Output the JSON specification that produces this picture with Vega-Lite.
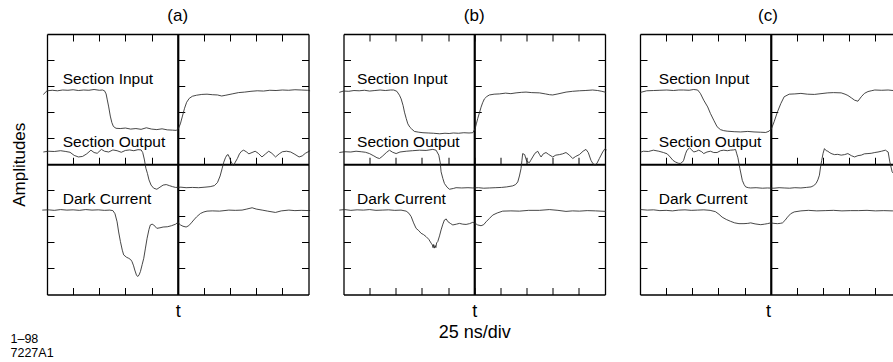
{
"$schema":"https://vega.github.io/schema/vega-lite/v6.json",
"padding":{"left":10,"top":6,"right":0,"bottom":0},
"bounds":"flush",
"spacing":34.5,
"title":{"text":["1–98","7227A1"],"orient":"bottom","anchor":"start","fontSize":12.5,"fontWeight":"normal","offset":-8,"lineHeight":14,"color":"#000"},
"config":{
 "font":"Liberation Sans",
 "view":{"stroke":null},
 "axis":{"labels":false,"grid":false,"domainColor":"#000","domainWidth":1.3,"tickColor":"#000","tickWidth":1,"tickSize":-7,"titleFontWeight":"normal","titleColor":"#000","titleFontSize":18,"titlePadding":7,"titleLineHeight":21},
 "title":{"fontSize":17,"fontWeight":"normal","color":"#000","offset":9}
},
"datasets":{
"lb":[
{"p":"a","label":"Section Input","t":-110,"v":3.09},{"p":"a","label":"Section Output","t":-110,"v":0.67},{"p":"a","label":"Dark Current","t":-110,"v":-1.53},
{"p":"b","label":"Section Input","t":-112,"v":3.09},{"p":"b","label":"Section Output","t":-112,"v":0.67},{"p":"b","label":"Dark Current","t":-112,"v":-1.53},
{"p":"c","label":"Section Input","t":-107,"v":3.09},{"p":"c","label":"Section Output","t":-107,"v":0.67},{"p":"c","label":"Dark Current","t":-107,"v":-1.53}
],
"tr":[
{"p":"a","s":"in","t":-128.5,"v":2.68},{"p":"a","s":"in","t":-125,"v":2.82},{"p":"a","s":"in","t":-120,"v":2.84},{"p":"a","s":"in","t":-115,"v":2.82},{"p":"a","s":"in","t":-110,"v":2.85},{"p":"a","s":"in","t":-105,"v":2.84},{"p":"a","s":"in","t":-100,"v":2.86},{"p":"a","s":"in","t":-95,"v":2.83},{"p":"a","s":"in","t":-90,"v":2.85},{"p":"a","s":"in","t":-85,"v":2.84},{"p":"a","s":"in","t":-80,"v":2.87},{"p":"a","s":"in","t":-75,"v":2.84},{"p":"a","s":"in","t":-72,"v":2.85},{"p":"a","s":"in","t":-70,"v":2.82},{"p":"a","s":"in","t":-68.5,"v":2.7},{"p":"a","s":"in","t":-67.5,"v":2.5},{"p":"a","s":"in","t":-66,"v":2.2},{"p":"a","s":"in","t":-64.5,"v":1.85},{"p":"a","s":"in","t":-63,"v":1.6},{"p":"a","s":"in","t":-61.5,"v":1.45},{"p":"a","s":"in","t":-59,"v":1.38},{"p":"a","s":"in","t":-55,"v":1.37},{"p":"a","s":"in","t":-50,"v":1.39},{"p":"a","s":"in","t":-45,"v":1.35},{"p":"a","s":"in","t":-40,"v":1.37},{"p":"a","s":"in","t":-35,"v":1.34},{"p":"a","s":"in","t":-30,"v":1.4},{"p":"a","s":"in","t":-25,"v":1.35},{"p":"a","s":"in","t":-20,"v":1.33},{"p":"a","s":"in","t":-15,"v":1.36},{"p":"a","s":"in","t":-10,"v":1.32},{"p":"a","s":"in","t":-5,"v":1.31},{"p":"a","s":"in","t":-1.5,"v":1.3},{"p":"a","s":"in","t":0.5,"v":1.36},{"p":"a","s":"in","t":2.5,"v":1.55},{"p":"a","s":"in","t":4.5,"v":1.85},{"p":"a","s":"in","t":6.5,"v":2.15},{"p":"a","s":"in","t":8.5,"v":2.38},{"p":"a","s":"in","t":11,"v":2.53},{"p":"a","s":"in","t":14,"v":2.61},{"p":"a","s":"in","t":18,"v":2.65},{"p":"a","s":"in","t":23,"v":2.68},{"p":"a","s":"in","t":28,"v":2.69},{"p":"a","s":"in","t":33,"v":2.67},{"p":"a","s":"in","t":38,"v":2.66},{"p":"a","s":"in","t":42,"v":2.62},{"p":"a","s":"in","t":46,"v":2.65},{"p":"a","s":"in","t":52,"v":2.7},{"p":"a","s":"in","t":58,"v":2.75},{"p":"a","s":"in","t":64,"v":2.77},{"p":"a","s":"in","t":70,"v":2.8},{"p":"a","s":"in","t":76,"v":2.82},{"p":"a","s":"in","t":82,"v":2.81},{"p":"a","s":"in","t":88,"v":2.84},{"p":"a","s":"in","t":94,"v":2.83},{"p":"a","s":"in","t":100,"v":2.85},{"p":"a","s":"in","t":106,"v":2.84},{"p":"a","s":"in","t":112,"v":2.86},{"p":"a","s":"in","t":118,"v":2.85},{"p":"a","s":"in","t":124,"v":2.84},{"p":"a","s":"in","t":126.5,"v":2.82},
{"p":"a","s":"out","t":-128.5,"v":0.47},{"p":"a","s":"out","t":-124,"v":0.5},{"p":"a","s":"out","t":-118,"v":0.49},{"p":"a","s":"out","t":-112,"v":0.52},{"p":"a","s":"out","t":-107,"v":0.49},{"p":"a","s":"out","t":-103,"v":0.46},{"p":"a","s":"out","t":-99,"v":0.34},{"p":"a","s":"out","t":-95,"v":0.28},{"p":"a","s":"out","t":-91,"v":0.3},{"p":"a","s":"out","t":-87,"v":0.4},{"p":"a","s":"out","t":-83,"v":0.54},{"p":"a","s":"out","t":-80,"v":0.45},{"p":"a","s":"out","t":-77,"v":0.42},{"p":"a","s":"out","t":-73,"v":0.57},{"p":"a","s":"out","t":-70,"v":0.5},{"p":"a","s":"out","t":-66,"v":0.47},{"p":"a","s":"out","t":-62,"v":0.55},{"p":"a","s":"out","t":-58,"v":0.52},{"p":"a","s":"out","t":-54,"v":0.46},{"p":"a","s":"out","t":-50,"v":0.53},{"p":"a","s":"out","t":-46,"v":0.55},{"p":"a","s":"out","t":-42,"v":0.52},{"p":"a","s":"out","t":-38,"v":0.56},{"p":"a","s":"out","t":-35,"v":0.55},{"p":"a","s":"out","t":-33.5,"v":0.45},{"p":"a","s":"out","t":-32,"v":0.2},{"p":"a","s":"out","t":-30.5,"v":-0.15},{"p":"a","s":"out","t":-29,"v":-0.35},{"p":"a","s":"out","t":-27.5,"v":-0.6},{"p":"a","s":"out","t":-25.5,"v":-0.8},{"p":"a","s":"out","t":-23,"v":-0.92},{"p":"a","s":"out","t":-20,"v":-0.96},{"p":"a","s":"out","t":-17,"v":-0.88},{"p":"a","s":"out","t":-14,"v":-0.8},{"p":"a","s":"out","t":-11,"v":-0.78},{"p":"a","s":"out","t":-8,"v":-0.82},{"p":"a","s":"out","t":-5,"v":-0.86},{"p":"a","s":"out","t":-2,"v":-0.89},{"p":"a","s":"out","t":3,"v":-0.88},{"p":"a","s":"out","t":8,"v":-0.9},{"p":"a","s":"out","t":14,"v":-0.89},{"p":"a","s":"out","t":20,"v":-0.9},{"p":"a","s":"out","t":26,"v":-0.88},{"p":"a","s":"out","t":31,"v":-0.86},{"p":"a","s":"out","t":35,"v":-0.82},{"p":"a","s":"out","t":38,"v":-0.7},{"p":"a","s":"out","t":40.5,"v":-0.45},{"p":"a","s":"out","t":42.5,"v":-0.15},{"p":"a","s":"out","t":44,"v":0.08},{"p":"a","s":"out","t":45.6,"v":0.25},{"p":"a","s":"out","t":47,"v":0.35},{"p":"a","s":"out","t":48.2,"v":0.37},{"p":"a","s":"out","t":49.5,"v":0.25},{"p":"a","s":"out","t":51,"v":0.1},{"p":"a","s":"out","t":52.5,"v":-0.02},{"p":"a","s":"out","t":53.6,"v":-0.04},{"p":"a","s":"out","t":55,"v":0.08},{"p":"a","s":"out","t":57,"v":0.22},{"p":"a","s":"out","t":59,"v":0.4},{"p":"a","s":"out","t":61,"v":0.5},{"p":"a","s":"out","t":63,"v":0.54},{"p":"a","s":"out","t":65.5,"v":0.48},{"p":"a","s":"out","t":68,"v":0.4},{"p":"a","s":"out","t":71,"v":0.45},{"p":"a","s":"out","t":74,"v":0.5},{"p":"a","s":"out","t":77,"v":0.42},{"p":"a","s":"out","t":80.5,"v":0.28},{"p":"a","s":"out","t":84,"v":0.4},{"p":"a","s":"out","t":87,"v":0.5},{"p":"a","s":"out","t":90,"v":0.42},{"p":"a","s":"out","t":93.5,"v":0.28},{"p":"a","s":"out","t":97,"v":0.4},{"p":"a","s":"out","t":100,"v":0.48},{"p":"a","s":"out","t":104,"v":0.5},{"p":"a","s":"out","t":108,"v":0.47},{"p":"a","s":"out","t":112,"v":0.38},{"p":"a","s":"out","t":116,"v":0.28},{"p":"a","s":"out","t":119,"v":0.32},{"p":"a","s":"out","t":122,"v":0.42},{"p":"a","s":"out","t":126.5,"v":0.52},
{"p":"a","s":"dc","t":-129.5,"v":-1.76},{"p":"a","s":"dc","t":-124,"v":-1.75},{"p":"a","s":"dc","t":-118,"v":-1.77},{"p":"a","s":"dc","t":-112,"v":-1.74},{"p":"a","s":"dc","t":-106,"v":-1.76},{"p":"a","s":"dc","t":-100,"v":-1.75},{"p":"a","s":"dc","t":-94,"v":-1.77},{"p":"a","s":"dc","t":-88,"v":-1.74},{"p":"a","s":"dc","t":-82,"v":-1.76},{"p":"a","s":"dc","t":-76,"v":-1.75},{"p":"a","s":"dc","t":-70,"v":-1.77},{"p":"a","s":"dc","t":-65,"v":-1.76},{"p":"a","s":"dc","t":-62,"v":-1.78},{"p":"a","s":"dc","t":-60,"v":-1.9},{"p":"a","s":"dc","t":-58,"v":-2.21},{"p":"a","s":"dc","t":-56.5,"v":-2.6},{"p":"a","s":"dc","t":-54.8,"v":-2.97},{"p":"a","s":"dc","t":-53,"v":-3.3},{"p":"a","s":"dc","t":-51.7,"v":-3.48},{"p":"a","s":"dc","t":-49,"v":-3.57},{"p":"a","s":"dc","t":-46.9,"v":-3.61},{"p":"a","s":"dc","t":-45,"v":-3.66},{"p":"a","s":"dc","t":-43.7,"v":-3.74},{"p":"a","s":"dc","t":-42.2,"v":-3.9},{"p":"a","s":"dc","t":-41.1,"v":-4.06},{"p":"a","s":"dc","t":-39.5,"v":-4.25},{"p":"a","s":"dc","t":-38.3,"v":-4.31},{"p":"a","s":"dc","t":-37,"v":-4.25},{"p":"a","s":"dc","t":-35.7,"v":-4.12},{"p":"a","s":"dc","t":-34,"v":-3.85},{"p":"a","s":"dc","t":-32.5,"v":-3.61},{"p":"a","s":"dc","t":-31,"v":-3.25},{"p":"a","s":"dc","t":-29.3,"v":-2.84},{"p":"a","s":"dc","t":-27.5,"v":-2.5},{"p":"a","s":"dc","t":-26.2,"v":-2.33},{"p":"a","s":"dc","t":-24.5,"v":-2.3},{"p":"a","s":"dc","t":-23,"v":-2.33},{"p":"a","s":"dc","t":-20,"v":-2.46},{"p":"a","s":"dc","t":-17,"v":-2.44},{"p":"a","s":"dc","t":-14,"v":-2.41},{"p":"a","s":"dc","t":-10,"v":-2.4},{"p":"a","s":"dc","t":-6,"v":-2.36},{"p":"a","s":"dc","t":-2,"v":-2.3},{"p":"a","s":"dc","t":0,"v":-2.23},{"p":"a","s":"dc","t":2.6,"v":-2.33},{"p":"a","s":"dc","t":5,"v":-2.38},{"p":"a","s":"dc","t":8,"v":-2.41},{"p":"a","s":"dc","t":10.5,"v":-2.36},{"p":"a","s":"dc","t":13,"v":-2.25},{"p":"a","s":"dc","t":15.3,"v":-2.14},{"p":"a","s":"dc","t":18,"v":-2.02},{"p":"a","s":"dc","t":21.7,"v":-1.89},{"p":"a","s":"dc","t":25,"v":-1.83},{"p":"a","s":"dc","t":28,"v":-1.8},{"p":"a","s":"dc","t":33,"v":-1.79},{"p":"a","s":"dc","t":40,"v":-1.8},{"p":"a","s":"dc","t":48.8,"v":-1.76},{"p":"a","s":"dc","t":55,"v":-1.77},{"p":"a","s":"dc","t":61.5,"v":-1.76},{"p":"a","s":"dc","t":66,"v":-1.72},{"p":"a","s":"dc","t":71.1,"v":-1.67},{"p":"a","s":"dc","t":75,"v":-1.72},{"p":"a","s":"dc","t":80.7,"v":-1.76},{"p":"a","s":"dc","t":86,"v":-1.8},{"p":"a","s":"dc","t":93.4,"v":-1.85},{"p":"a","s":"dc","t":99,"v":-1.79},{"p":"a","s":"dc","t":106.2,"v":-1.76},{"p":"a","s":"dc","t":112,"v":-1.78},{"p":"a","s":"dc","t":118,"v":-1.77},{"p":"a","s":"dc","t":126.5,"v":-1.78},
{"p":"b","s":"in","t":-129,"v":2.76},{"p":"b","s":"in","t":-125,"v":2.81},{"p":"b","s":"in","t":-120,"v":2.8},{"p":"b","s":"in","t":-115,"v":2.83},{"p":"b","s":"in","t":-110,"v":2.82},{"p":"b","s":"in","t":-105,"v":2.84},{"p":"b","s":"in","t":-100,"v":2.81},{"p":"b","s":"in","t":-95,"v":2.83},{"p":"b","s":"in","t":-90,"v":2.85},{"p":"b","s":"in","t":-85,"v":2.83},{"p":"b","s":"in","t":-80,"v":2.85},{"p":"b","s":"in","t":-77,"v":2.85},{"p":"b","s":"in","t":-74,"v":2.8},{"p":"b","s":"in","t":-71.5,"v":2.65},{"p":"b","s":"in","t":-69.9,"v":2.51},{"p":"b","s":"in","t":-68,"v":2.25},{"p":"b","s":"in","t":-66.7,"v":2.0},{"p":"b","s":"in","t":-65,"v":1.75},{"p":"b","s":"in","t":-63.5,"v":1.55},{"p":"b","s":"in","t":-61.5,"v":1.42},{"p":"b","s":"in","t":-60,"v":1.36},{"p":"b","s":"in","t":-57.2,"v":1.26},{"p":"b","s":"in","t":-53,"v":1.23},{"p":"b","s":"in","t":-49,"v":1.21},{"p":"b","s":"in","t":-44,"v":1.2},{"p":"b","s":"in","t":-39,"v":1.19},{"p":"b","s":"in","t":-33,"v":1.17},{"p":"b","s":"in","t":-28,"v":1.19},{"p":"b","s":"in","t":-24,"v":1.18},{"p":"b","s":"in","t":-20,"v":1.2},{"p":"b","s":"in","t":-15,"v":1.19},{"p":"b","s":"in","t":-10,"v":1.21},{"p":"b","s":"in","t":-5,"v":1.2},{"p":"b","s":"in","t":-1.4,"v":1.21},{"p":"b","s":"in","t":0.8,"v":1.36},{"p":"b","s":"in","t":2,"v":1.55},{"p":"b","s":"in","t":3.3,"v":1.75},{"p":"b","s":"in","t":5,"v":1.98},{"p":"b","s":"in","t":6.5,"v":2.19},{"p":"b","s":"in","t":8,"v":2.36},{"p":"b","s":"in","t":9.7,"v":2.51},{"p":"b","s":"in","t":12,"v":2.6},{"p":"b","s":"in","t":14.5,"v":2.66},{"p":"b","s":"in","t":19,"v":2.69},{"p":"b","s":"in","t":24,"v":2.7},{"p":"b","s":"in","t":30,"v":2.73},{"p":"b","s":"in","t":35,"v":2.71},{"p":"b","s":"in","t":40,"v":2.74},{"p":"b","s":"in","t":45,"v":2.76},{"p":"b","s":"in","t":49.5,"v":2.77},{"p":"b","s":"in","t":55,"v":2.75},{"p":"b","s":"in","t":62.3,"v":2.74},{"p":"b","s":"in","t":68,"v":2.7},{"p":"b","s":"in","t":72,"v":2.67},{"p":"b","s":"in","t":75,"v":2.66},{"p":"b","s":"in","t":80,"v":2.7},{"p":"b","s":"in","t":87.8,"v":2.77},{"p":"b","s":"in","t":94,"v":2.8},{"p":"b","s":"in","t":100.5,"v":2.82},{"p":"b","s":"in","t":106,"v":2.83},{"p":"b","s":"in","t":113.2,"v":2.85},{"p":"b","s":"in","t":118,"v":2.83},{"p":"b","s":"in","t":122,"v":2.8},{"p":"b","s":"in","t":126,"v":2.76},
{"p":"b","s":"out","t":-129,"v":0.45},{"p":"b","s":"out","t":-124,"v":0.48},{"p":"b","s":"out","t":-118,"v":0.47},{"p":"b","s":"out","t":-113,"v":0.5},{"p":"b","s":"out","t":-108,"v":0.48},{"p":"b","s":"out","t":-104,"v":0.46},{"p":"b","s":"out","t":-100.2,"v":0.41},{"p":"b","s":"out","t":-96,"v":0.32},{"p":"b","s":"out","t":-93,"v":0.25},{"p":"b","s":"out","t":-90.6,"v":0.22},{"p":"b","s":"out","t":-88,"v":0.3},{"p":"b","s":"out","t":-84,"v":0.45},{"p":"b","s":"out","t":-81.1,"v":0.54},{"p":"b","s":"out","t":-78,"v":0.46},{"p":"b","s":"out","t":-74.7,"v":0.41},{"p":"b","s":"out","t":-71,"v":0.47},{"p":"b","s":"out","t":-65,"v":0.5},{"p":"b","s":"out","t":-59,"v":0.52},{"p":"b","s":"out","t":-52.4,"v":0.54},{"p":"b","s":"out","t":-46,"v":0.53},{"p":"b","s":"out","t":-39.6,"v":0.57},{"p":"b","s":"out","t":-36.5,"v":0.54},{"p":"b","s":"out","t":-33.9,"v":0.35},{"p":"b","s":"out","t":-32.5,"v":0.05},{"p":"b","s":"out","t":-31.7,"v":-0.29},{"p":"b","s":"out","t":-30,"v":-0.55},{"p":"b","s":"out","t":-28.5,"v":-0.74},{"p":"b","s":"out","t":-26,"v":-0.88},{"p":"b","s":"out","t":-23.7,"v":-0.96},{"p":"b","s":"out","t":-20,"v":-0.93},{"p":"b","s":"out","t":-17.4,"v":-0.9},{"p":"b","s":"out","t":-12,"v":-0.91},{"p":"b","s":"out","t":-6,"v":-0.9},{"p":"b","s":"out","t":-1.4,"v":-0.91},{"p":"b","s":"out","t":4,"v":-0.9},{"p":"b","s":"out","t":9,"v":-0.92},{"p":"b","s":"out","t":14.5,"v":-0.91},{"p":"b","s":"out","t":20,"v":-0.9},{"p":"b","s":"out","t":26,"v":-0.89},{"p":"b","s":"out","t":31,"v":-0.87},{"p":"b","s":"out","t":36.8,"v":-0.83},{"p":"b","s":"out","t":39.5,"v":-0.78},{"p":"b","s":"out","t":41.6,"v":-0.68},{"p":"b","s":"out","t":43.2,"v":-0.45},{"p":"b","s":"out","t":44.7,"v":-0.17},{"p":"b","s":"out","t":45.6,"v":0.15},{"p":"b","s":"out","t":46.3,"v":0.41},{"p":"b","s":"out","t":48.2,"v":0.37},{"p":"b","s":"out","t":50.2,"v":0.11},{"p":"b","s":"out","t":52.7,"v":0.06},{"p":"b","s":"out","t":54,"v":0.15},{"p":"b","s":"out","t":55.9,"v":0.28},{"p":"b","s":"out","t":58,"v":0.42},{"p":"b","s":"out","t":60.7,"v":0.5},{"p":"b","s":"out","t":62.3,"v":0.38},{"p":"b","s":"out","t":63.9,"v":0.28},{"p":"b","s":"out","t":66,"v":0.4},{"p":"b","s":"out","t":68.6,"v":0.45},{"p":"b","s":"out","t":71,"v":0.38},{"p":"b","s":"out","t":75,"v":0.28},{"p":"b","s":"out","t":78,"v":0.35},{"p":"b","s":"out","t":81.4,"v":0.37},{"p":"b","s":"out","t":84.5,"v":0.4},{"p":"b","s":"out","t":87.7,"v":0.45},{"p":"b","s":"out","t":91,"v":0.35},{"p":"b","s":"out","t":94.1,"v":0.22},{"p":"b","s":"out","t":97,"v":0.3},{"p":"b","s":"out","t":100.5,"v":0.37},{"p":"b","s":"out","t":104,"v":0.5},{"p":"b","s":"out","t":106.8,"v":0.57},{"p":"b","s":"out","t":109,"v":0.45},{"p":"b","s":"out","t":111.6,"v":0.15},{"p":"b","s":"out","t":113.5,"v":0.02},{"p":"b","s":"out","t":115.7,"v":-0.04},{"p":"b","s":"out","t":117.5,"v":0.05},{"p":"b","s":"out","t":119.6,"v":0.22},{"p":"b","s":"out","t":122.8,"v":0.47},{"p":"b","s":"out","t":125,"v":0.6},{"p":"b","s":"out","t":126.5,"v":0.55},
{"p":"b","s":"dc","t":-129,"v":-1.76},{"p":"b","s":"dc","t":-124,"v":-1.74},{"p":"b","s":"dc","t":-118,"v":-1.77},{"p":"b","s":"dc","t":-112,"v":-1.75},{"p":"b","s":"dc","t":-106,"v":-1.76},{"p":"b","s":"dc","t":-100,"v":-1.74},{"p":"b","s":"dc","t":-94,"v":-1.77},{"p":"b","s":"dc","t":-88,"v":-1.76},{"p":"b","s":"dc","t":-82,"v":-1.75},{"p":"b","s":"dc","t":-76,"v":-1.77},{"p":"b","s":"dc","t":-70,"v":-1.76},{"p":"b","s":"dc","t":-65.1,"v":-1.8},{"p":"b","s":"dc","t":-62.5,"v":-1.88},{"p":"b","s":"dc","t":-60.3,"v":-2.01},{"p":"b","s":"dc","t":-58,"v":-2.25},{"p":"b","s":"dc","t":-55.6,"v":-2.46},{"p":"b","s":"dc","t":-53,"v":-2.55},{"p":"b","s":"dc","t":-50.8,"v":-2.65},{"p":"b","s":"dc","t":-48.5,"v":-2.7},{"p":"b","s":"dc","t":-46,"v":-2.78},{"p":"b","s":"dc","t":-43.5,"v":-2.88},{"p":"b","s":"dc","t":-41.2,"v":-3.03},{"p":"b","s":"dc","t":-40,"v":-3.1},{"p":"b","s":"dc","t":-39.4,"v":-3.2},{"p":"b","s":"dc","t":-38.8,"v":-3.08},{"p":"b","s":"dc","t":-38.2,"v":-3.22},{"p":"b","s":"dc","t":-37.4,"v":-3.12},{"p":"b","s":"dc","t":-36.7,"v":-3.2},{"p":"b","s":"dc","t":-36,"v":-3.02},{"p":"b","s":"dc","t":-34.9,"v":-2.97},{"p":"b","s":"dc","t":-33.2,"v":-2.75},{"p":"b","s":"dc","t":-31.7,"v":-2.52},{"p":"b","s":"dc","t":-30,"v":-2.3},{"p":"b","s":"dc","t":-28.5,"v":-2.14},{"p":"b","s":"dc","t":-26.8,"v":-2.1},{"p":"b","s":"dc","t":-25.3,"v":-2.2},{"p":"b","s":"dc","t":-22.5,"v":-2.28},{"p":"b","s":"dc","t":-20.5,"v":-2.33},{"p":"b","s":"dc","t":-17,"v":-2.3},{"p":"b","s":"dc","t":-14.2,"v":-2.27},{"p":"b","s":"dc","t":-11,"v":-2.3},{"p":"b","s":"dc","t":-7.8,"v":-2.31},{"p":"b","s":"dc","t":-4.5,"v":-2.28},{"p":"b","s":"dc","t":-1.4,"v":-2.23},{"p":"b","s":"dc","t":1,"v":-2.27},{"p":"b","s":"dc","t":3.3,"v":-2.33},{"p":"b","s":"dc","t":6.5,"v":-2.36},{"p":"b","s":"dc","t":9,"v":-2.32},{"p":"b","s":"dc","t":11.3,"v":-2.21},{"p":"b","s":"dc","t":14.5,"v":-2.08},{"p":"b","s":"dc","t":17.7,"v":-1.95},{"p":"b","s":"dc","t":22,"v":-1.87},{"p":"b","s":"dc","t":27.2,"v":-1.8},{"p":"b","s":"dc","t":35,"v":-1.79},{"p":"b","s":"dc","t":43.2,"v":-1.8},{"p":"b","s":"dc","t":52,"v":-1.77},{"p":"b","s":"dc","t":62.3,"v":-1.77},{"p":"b","s":"dc","t":71.8,"v":-1.74},{"p":"b","s":"dc","t":80,"v":-1.77},{"p":"b","s":"dc","t":87.7,"v":-1.81},{"p":"b","s":"dc","t":94,"v":-1.79},{"p":"b","s":"dc","t":100.5,"v":-1.8},{"p":"b","s":"dc","t":108,"v":-1.78},{"p":"b","s":"dc","t":116,"v":-1.79},{"p":"b","s":"dc","t":126,"v":-1.81},
{"p":"c","s":"in","t":-128,"v":2.59},{"p":"c","s":"in","t":-124.4,"v":2.76},{"p":"c","s":"in","t":-118.6,"v":2.82},{"p":"c","s":"in","t":-112,"v":2.83},{"p":"c","s":"in","t":-106,"v":2.84},{"p":"c","s":"in","t":-99.4,"v":2.85},{"p":"c","s":"in","t":-93,"v":2.83},{"p":"c","s":"in","t":-88,"v":2.85},{"p":"c","s":"in","t":-83.3,"v":2.85},{"p":"c","s":"in","t":-78,"v":2.84},{"p":"c","s":"in","t":-73.7,"v":2.87},{"p":"c","s":"in","t":-69.9,"v":2.85},{"p":"c","s":"in","t":-67.3,"v":2.72},{"p":"c","s":"in","t":-64.1,"v":2.46},{"p":"c","s":"in","t":-60.3,"v":2.2},{"p":"c","s":"in","t":-57.7,"v":1.95},{"p":"c","s":"in","t":-54.5,"v":1.69},{"p":"c","s":"in","t":-51.3,"v":1.44},{"p":"c","s":"in","t":-48.1,"v":1.33},{"p":"c","s":"in","t":-45,"v":1.29},{"p":"c","s":"in","t":-41.7,"v":1.27},{"p":"c","s":"in","t":-35,"v":1.25},{"p":"c","s":"in","t":-28.8,"v":1.24},{"p":"c","s":"in","t":-22,"v":1.26},{"p":"c","s":"in","t":-16,"v":1.24},{"p":"c","s":"in","t":-10,"v":1.23},{"p":"c","s":"in","t":-4.8,"v":1.22},{"p":"c","s":"in","t":-1.6,"v":1.27},{"p":"c","s":"in","t":0.6,"v":1.36},{"p":"c","s":"in","t":3.2,"v":1.63},{"p":"c","s":"in","t":6.4,"v":2.01},{"p":"c","s":"in","t":9.6,"v":2.33},{"p":"c","s":"in","t":12.8,"v":2.59},{"p":"c","s":"in","t":17.6,"v":2.69},{"p":"c","s":"in","t":23,"v":2.7},{"p":"c","s":"in","t":28.8,"v":2.72},{"p":"c","s":"in","t":35,"v":2.69},{"p":"c","s":"in","t":41.7,"v":2.68},{"p":"c","s":"in","t":48,"v":2.71},{"p":"c","s":"in","t":54.5,"v":2.74},{"p":"c","s":"in","t":60,"v":2.75},{"p":"c","s":"in","t":67.3,"v":2.74},{"p":"c","s":"in","t":71,"v":2.69},{"p":"c","s":"in","t":73.7,"v":2.64},{"p":"c","s":"in","t":77,"v":2.55},{"p":"c","s":"in","t":80.1,"v":2.46},{"p":"c","s":"in","t":83.3,"v":2.42},{"p":"c","s":"in","t":86.5,"v":2.59},{"p":"c","s":"in","t":89.5,"v":2.72},{"p":"c","s":"in","t":92.9,"v":2.79},{"p":"c","s":"in","t":96,"v":2.82},{"p":"c","s":"in","t":99.4,"v":2.85},{"p":"c","s":"in","t":106,"v":2.84},{"p":"c","s":"in","t":112.2,"v":2.85},{"p":"c","s":"in","t":117,"v":2.83},{"p":"c","s":"in","t":121.8,"v":2.82},{"p":"c","s":"in","t":125,"v":2.8},
{"p":"c","s":"out","t":-128,"v":0.41},{"p":"c","s":"out","t":-121.8,"v":0.5},{"p":"c","s":"out","t":-117,"v":0.49},{"p":"c","s":"out","t":-112.2,"v":0.54},{"p":"c","s":"out","t":-107,"v":0.5},{"p":"c","s":"out","t":-102.6,"v":0.45},{"p":"c","s":"out","t":-99,"v":0.4},{"p":"c","s":"out","t":-96.2,"v":0.28},{"p":"c","s":"out","t":-93.5,"v":0.15},{"p":"c","s":"out","t":-91.3,"v":0.09},{"p":"c","s":"out","t":-88.5,"v":0.04},{"p":"c","s":"out","t":-86.5,"v":0.03},{"p":"c","s":"out","t":-84.5,"v":0.08},{"p":"c","s":"out","t":-83.3,"v":0.15},{"p":"c","s":"out","t":-81.5,"v":0.4},{"p":"c","s":"out","t":-80.1,"v":0.54},{"p":"c","s":"out","t":-77.6,"v":0.63},{"p":"c","s":"out","t":-75.5,"v":0.55},{"p":"c","s":"out","t":-73.7,"v":0.47},{"p":"c","s":"out","t":-71,"v":0.5},{"p":"c","s":"out","t":-68.9,"v":0.54},{"p":"c","s":"out","t":-66,"v":0.48},{"p":"c","s":"out","t":-64.1,"v":0.41},{"p":"c","s":"out","t":-61,"v":0.47},{"p":"c","s":"out","t":-57.7,"v":0.5},{"p":"c","s":"out","t":-54.5,"v":0.45},{"p":"c","s":"out","t":-51.3,"v":0.45},{"p":"c","s":"out","t":-48,"v":0.52},{"p":"c","s":"out","t":-44.9,"v":0.54},{"p":"c","s":"out","t":-41.5,"v":0.52},{"p":"c","s":"out","t":-38.5,"v":0.54},{"p":"c","s":"out","t":-35.5,"v":0.55},{"p":"c","s":"out","t":-33.7,"v":0.57},{"p":"c","s":"out","t":-32.5,"v":0.4},{"p":"c","s":"out","t":-31.4,"v":0.25},{"p":"c","s":"out","t":-29.5,"v":-0.17},{"p":"c","s":"out","t":-27.2,"v":-0.62},{"p":"c","s":"out","t":-25.5,"v":-0.78},{"p":"c","s":"out","t":-24,"v":-0.87},{"p":"c","s":"out","t":-21.5,"v":-0.9},{"p":"c","s":"out","t":-19.2,"v":-0.91},{"p":"c","s":"out","t":-14,"v":-0.9},{"p":"c","s":"out","t":-8,"v":-0.92},{"p":"c","s":"out","t":-3.2,"v":-0.91},{"p":"c","s":"out","t":3,"v":-0.92},{"p":"c","s":"out","t":8,"v":-0.9},{"p":"c","s":"out","t":12.8,"v":-0.91},{"p":"c","s":"out","t":18,"v":-0.92},{"p":"c","s":"out","t":23,"v":-0.9},{"p":"c","s":"out","t":28.8,"v":-0.91},{"p":"c","s":"out","t":34,"v":-0.89},{"p":"c","s":"out","t":38.5,"v":-0.87},{"p":"c","s":"out","t":41,"v":-0.82},{"p":"c","s":"out","t":43.3,"v":-0.74},{"p":"c","s":"out","t":45,"v":-0.6},{"p":"c","s":"out","t":46.5,"v":-0.42},{"p":"c","s":"out","t":47.6,"v":-0.1},{"p":"c","s":"out","t":48.7,"v":0.15},{"p":"c","s":"out","t":50,"v":0.42},{"p":"c","s":"out","t":51.3,"v":0.6},{"p":"c","s":"out","t":53,"v":0.52},{"p":"c","s":"out","t":54.5,"v":0.5},{"p":"c","s":"out","t":56.5,"v":0.44},{"p":"c","s":"out","t":58.5,"v":0.4},{"p":"c","s":"out","t":60.9,"v":0.37},{"p":"c","s":"out","t":64,"v":0.38},{"p":"c","s":"out","t":67.3,"v":0.35},{"p":"c","s":"out","t":70.5,"v":0.37},{"p":"c","s":"out","t":73.7,"v":0.41},{"p":"c","s":"out","t":77,"v":0.33},{"p":"c","s":"out","t":80.1,"v":0.28},{"p":"c","s":"out","t":83.3,"v":0.33},{"p":"c","s":"out","t":86.5,"v":0.35},{"p":"c","s":"out","t":89.5,"v":0.4},{"p":"c","s":"out","t":92.9,"v":0.41},{"p":"c","s":"out","t":96,"v":0.42},{"p":"c","s":"out","t":99.4,"v":0.45},{"p":"c","s":"out","t":102.5,"v":0.47},{"p":"c","s":"out","t":105.8,"v":0.5},{"p":"c","s":"out","t":109.6,"v":0.54},{"p":"c","s":"out","t":111,"v":0.5},{"p":"c","s":"out","t":112.2,"v":0.47},{"p":"c","s":"out","t":113.8,"v":0.09},{"p":"c","s":"out","t":116,"v":-0.29},{"p":"c","s":"out","t":118.6,"v":-0.42},{"p":"c","s":"out","t":120.5,"v":-0.45},{"p":"c","s":"out","t":122.8,"v":-0.48},
{"p":"c","s":"dc","t":-128.5,"v":-1.77},{"p":"c","s":"dc","t":-124,"v":-1.74},{"p":"c","s":"dc","t":-118,"v":-1.76},{"p":"c","s":"dc","t":-112,"v":-1.75},{"p":"c","s":"dc","t":-106,"v":-1.78},{"p":"c","s":"dc","t":-100,"v":-1.77},{"p":"c","s":"dc","t":-94,"v":-1.79},{"p":"c","s":"dc","t":-88,"v":-1.76},{"p":"c","s":"dc","t":-82,"v":-1.75},{"p":"c","s":"dc","t":-76,"v":-1.77},{"p":"c","s":"dc","t":-70,"v":-1.76},{"p":"c","s":"dc","t":-64,"v":-1.75},{"p":"c","s":"dc","t":-58,"v":-1.77},{"p":"c","s":"dc","t":-52.9,"v":-1.82},{"p":"c","s":"dc","t":-49.5,"v":-1.92},{"p":"c","s":"dc","t":-46.5,"v":-2.03},{"p":"c","s":"dc","t":-42.5,"v":-2.12},{"p":"c","s":"dc","t":-38.5,"v":-2.19},{"p":"c","s":"dc","t":-34.5,"v":-2.25},{"p":"c","s":"dc","t":-30.4,"v":-2.28},{"p":"c","s":"dc","t":-25.6,"v":-2.28},{"p":"c","s":"dc","t":-22,"v":-2.27},{"p":"c","s":"dc","t":-19.2,"v":-2.25},{"p":"c","s":"dc","t":-15,"v":-2.29},{"p":"c","s":"dc","t":-9.6,"v":-2.32},{"p":"c","s":"dc","t":-6,"v":-2.3},{"p":"c","s":"dc","t":-3.2,"v":-2.28},{"p":"c","s":"dc","t":0,"v":-2.25},{"p":"c","s":"dc","t":3,"v":-2.27},{"p":"c","s":"dc","t":6.4,"v":-2.28},{"p":"c","s":"dc","t":9,"v":-2.27},{"p":"c","s":"dc","t":11.2,"v":-2.25},{"p":"c","s":"dc","t":13.5,"v":-2.16},{"p":"c","s":"dc","t":16,"v":-2.03},{"p":"c","s":"dc","t":19,"v":-1.9},{"p":"c","s":"dc","t":22.4,"v":-1.83},{"p":"c","s":"dc","t":28.8,"v":-1.79},{"p":"c","s":"dc","t":36,"v":-1.77},{"p":"c","s":"dc","t":44,"v":-1.79},{"p":"c","s":"dc","t":52,"v":-1.78},{"p":"c","s":"dc","t":60,"v":-1.77},{"p":"c","s":"dc","t":68,"v":-1.79},{"p":"c","s":"dc","t":76,"v":-1.78},{"p":"c","s":"dc","t":84,"v":-1.78},{"p":"c","s":"dc","t":92,"v":-1.77},{"p":"c","s":"dc","t":100,"v":-1.79},{"p":"c","s":"dc","t":108,"v":-1.78},{"p":"c","s":"dc","t":116,"v":-1.79},{"p":"c","s":"dc","t":124,"v":-1.78}
]
},
"hconcat":[
{"width":261.5,"height":260.5,"title":"(a)",
 "layer":[
  {"data":{"name":"tr"},"transform":[{"filter":"datum.p==='a'"}],
   "mark":{"type":"line","color":"#262626","strokeWidth":0.85},
   "encoding":{
    "x":{"field":"t","type":"quantitative","scale":{"domain":[-125,125],"nice":false,"zero":false},"axis":{"orient":"bottom","values":[-100,-75,-50,-25,0,25,50,75,100],"title":"t"}},
    "y":{"field":"v","type":"quantitative","scale":{"domain":[-5,5],"nice":false,"zero":false},"axis":{"orient":"left","values":[-4,-3,-2,-1,0,1,2,3,4],"title":"Amplitudes","titleFontSize":17,"titlePadding":18}},
    "detail":{"field":"s"}}},
  {"data":{"name":"lb"},"transform":[{"filter":"datum.p==='a'"}],
   "mark":{"type":"text","align":"left","baseline":"alphabetic","fontSize":15.5,"color":"#000"},
   "encoding":{
    "x":{"field":"t","type":"quantitative","axis":{"orient":"top","values":[-100,-75,-50,-25,0,25,50,75,100],"title":null}},
    "y":{"field":"v","type":"quantitative","axis":{"orient":"right","values":[-4,-3,-2,-1,0,1,2,3,4],"title":null}},
    "text":{"field":"label"}}},
  {"data":{"name":"lb"},"transform":[{"filter":"datum.p==='a'"}],
   "mark":{"type":"point","opacity":0},
   "encoding":{
    "x":{"field":"t","type":"quantitative","axis":{"orient":"bottom","offset":-130.25,"domainWidth":2.2,"values":[-100,-75,-50,-25,0,25,50,75,100],"title":null}},
    "y":{"field":"v","type":"quantitative","axis":{"orient":"left","offset":-130.75,"domainWidth":2.2,"values":[-4,-3,-2,-1,0,1,2,3,4],"title":null}}}}
 ],
 "resolve":{"axis":{"x":"independent","y":"independent"}}},
{"width":261.5,"height":260.5,"title":"(b)",
 "layer":[
  {"data":{"name":"tr"},"transform":[{"filter":"datum.p==='b'"}],
   "mark":{"type":"line","color":"#262626","strokeWidth":0.85},
   "encoding":{
    "x":{"field":"t","type":"quantitative","scale":{"domain":[-125,125],"nice":false,"zero":false},"axis":{"orient":"bottom","values":[-100,-75,-50,-25,0,25,50,75,100],"title":["t","25 ns/div"]}},
    "y":{"field":"v","type":"quantitative","scale":{"domain":[-5,5],"nice":false,"zero":false},"axis":{"orient":"left","values":[-4,-3,-2,-1,0,1,2,3,4],"title":null}},
    "detail":{"field":"s"}}},
  {"data":{"name":"lb"},"transform":[{"filter":"datum.p==='b'"}],
   "mark":{"type":"text","align":"left","baseline":"alphabetic","fontSize":15.5,"color":"#000"},
   "encoding":{
    "x":{"field":"t","type":"quantitative","axis":{"orient":"top","values":[-100,-75,-50,-25,0,25,50,75,100],"title":null}},
    "y":{"field":"v","type":"quantitative","axis":{"orient":"right","values":[-4,-3,-2,-1,0,1,2,3,4],"title":null}},
    "text":{"field":"label"}}},
  {"data":{"name":"lb"},"transform":[{"filter":"datum.p==='b'"}],
   "mark":{"type":"point","opacity":0},
   "encoding":{
    "x":{"field":"t","type":"quantitative","axis":{"orient":"bottom","offset":-130.25,"domainWidth":2.2,"values":[-100,-75,-50,-25,0,25,50,75,100],"title":null}},
    "y":{"field":"v","type":"quantitative","axis":{"orient":"left","offset":-130.75,"domainWidth":2.2,"values":[-4,-3,-2,-1,0,1,2,3,4],"title":null}}}}
 ],
 "resolve":{"axis":{"x":"independent","y":"independent"}}},
{"width":256,"height":260.5,"title":"(c)",
 "layer":[
  {"data":{"name":"tr"},"transform":[{"filter":"datum.p==='c'"}],
   "mark":{"type":"line","color":"#262626","strokeWidth":0.85,"clip":true},
   "encoding":{
    "x":{"field":"t","type":"quantitative","scale":{"domain":[-125,119.7],"nice":false,"zero":false},"axis":{"orient":"bottom","values":[-100,-75,-50,-25,0,25,50,75,100],"title":"t"}},
    "y":{"field":"v","type":"quantitative","scale":{"domain":[-5,5],"nice":false,"zero":false},"axis":{"orient":"left","values":[-4,-3,-2,-1,0,1,2,3,4],"title":null}},
    "detail":{"field":"s"}}},
  {"data":{"name":"lb"},"transform":[{"filter":"datum.p==='c'"}],
   "mark":{"type":"text","align":"left","baseline":"alphabetic","fontSize":15.5,"color":"#000"},
   "encoding":{
    "x":{"field":"t","type":"quantitative","axis":{"orient":"top","values":[-100,-75,-50,-25,0,25,50,75,100],"title":null}},
    "y":{"field":"v","type":"quantitative","axis":null},
    "text":{"field":"label"}}},
  {"data":{"name":"lb"},"transform":[{"filter":"datum.p==='c'"}],
   "mark":{"type":"point","opacity":0},
   "encoding":{
    "x":{"field":"t","type":"quantitative","axis":{"orient":"bottom","offset":-130.25,"domainWidth":2.2,"values":[-100,-75,-50,-25,0,25,50,75,100],"title":null}},
    "y":{"field":"v","type":"quantitative","axis":{"orient":"left","offset":-130.75,"domainWidth":2.2,"values":[-4,-3,-2,-1,0,1,2,3,4],"title":null}}}}
 ],
 "resolve":{"axis":{"x":"independent","y":"independent"}}}
]
}
